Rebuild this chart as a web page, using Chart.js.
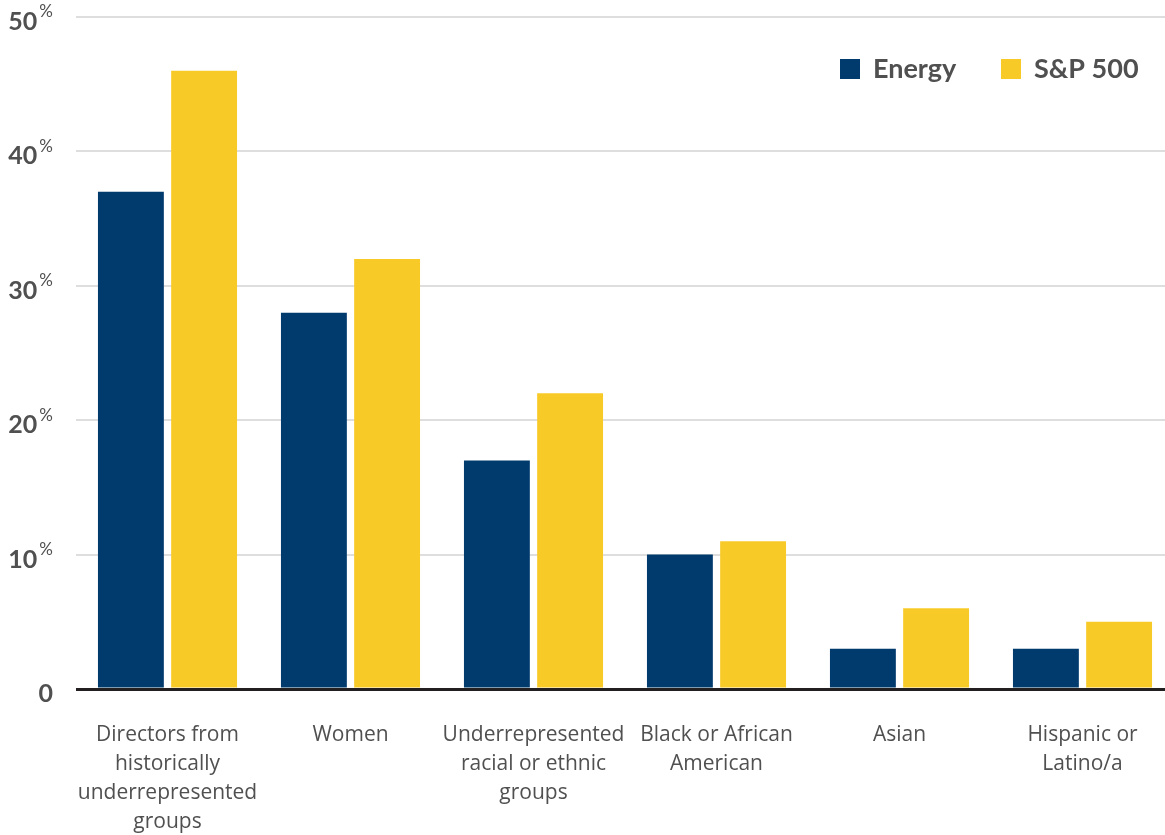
<!DOCTYPE html>
<html>
<head>
<meta charset="utf-8">
<script src="https://cdn.jsdelivr.net/npm/chart.js@4.4.1/dist/chart.umd.min.js"></script>
<style>
  html, body { margin: 0; padding: 0; background: #fff; overflow: hidden; }
  #wrap { position: relative; width: 1174px; height: 835px; }
</style>
</head>
<body>
<div id="wrap"><canvas id="chart-1"></canvas></div>
<script>
// Chart data
const categories = [
    ['Directors from', 'historically', 'underrepresented', 'groups'],
    ['Women'],
    ['Underrepresented', 'racial or ethnic', 'groups'],
    ['Black or African', 'American'],
    ['Asian'],
    ['Hispanic or', 'Latino/a']
];
const energyValues = [37, 28, 17, 10, 3, 3];
const spValues = [46, 32, 22, 11, 6, 5];
const yTicks = [0, 10, 20, 30, 40, 50];

const NAVY = '#013a6d';
const GOLD = '#f8ca28';
const TEXT = '#505050';

// Draws y tick labels with a small raised percent sign
const yLabelsPlugin = {
    id: 'yLabels',
    afterDraw(chart) {
        const ctx = chart.ctx;
        const y = chart.scales.y;
        const right = 53;
        ctx.save();
        ctx.fillStyle = TEXT;
        ctx.textBaseline = 'middle';
        ctx.textAlign = 'right';
        yTicks.forEach(v => {
            const py = y.getPixelForValue(v);
            if (v === 0) {
                ctx.font = 'bold 25px Lato';
                ctx.fillText('0', right, py + 5);
                return;
            }
            ctx.font = '17px Lato';
            const pw = ctx.measureText('%').width;
            ctx.fillText('%', right, py - 5);
            ctx.font = 'bold 25px Lato';
            ctx.fillText(String(v), right - pw - 2, py + 5);
        });
        ctx.restore();
    }
};

// Legend drawn inside the chart area, top right
const legendPlugin = {
    id: 'insideLegend',
    afterDraw(chart) {
        const ctx = chart.ctx;
        const area = chart.chartArea;
        const cy = area.top + 52;
        const starts = [area.right - 334, area.right - 173];
        ctx.save();
        ctx.font = 'bold 27px Lato';
        ctx.textBaseline = 'middle';
        ctx.textAlign = 'left';
        chart.data.datasets.forEach((ds, i) => {
            const x = starts[i];
            ctx.fillStyle = ds.backgroundColor;
            ctx.fillRect(x, cy - 10, 20, 20);
            ctx.fillStyle = TEXT;
            ctx.fillText(ds.label, x + 33, cy);
        });
        ctx.restore();
    }
};

const ctx1 = document.getElementById('chart-1').getContext('2d');
const chart1 = new Chart(ctx1, {
    type: 'bar',
    data: {
        labels: categories,
        datasets: [
            { label: 'Energy', data: energyValues, backgroundColor: NAVY },
            { label: 'S&P 500', data: spValues, backgroundColor: GOLD }
        ]
    },
    options: {
        responsive: true,
        maintainAspectRatio: false,
        animation: false,
        layout: { padding: { top: 17, left: 0, right: 0, bottom: 0 } },
        plugins: {
            legend: { display: false },
            tooltip: { enabled: false }
        },
        scales: {
            x: {
                grid: { display: false, drawTicks: false },
                border: { display: false },
                ticks: {
                    color: TEXT,
                    padding: 32,
                    font: { family: 'Open Sans', size: 21, lineHeight: 1.38 },
                    maxRotation: 0,
                    autoSkip: false
                },
                afterFit(scale) { scale.height = 146; }
            },
            y: {
                min: 0,
                max: 50,
                z: 1,
                ticks: { display: false, stepSize: 10 },
                border: { display: false },
                grid: {
                    drawTicks: false,
                    color: c => c.tick && c.tick.value === 0 ? '#231f20' : 'rgba(0,0,0,0.13)',
                    lineWidth: c => c.tick && c.tick.value === 0 ? 3 : 2
                },
                afterFit(scale) { scale.width = 76; }
            }
        }
    },
    plugins: [yLabelsPlugin, legendPlugin]
});
</script>
</body>
</html>
